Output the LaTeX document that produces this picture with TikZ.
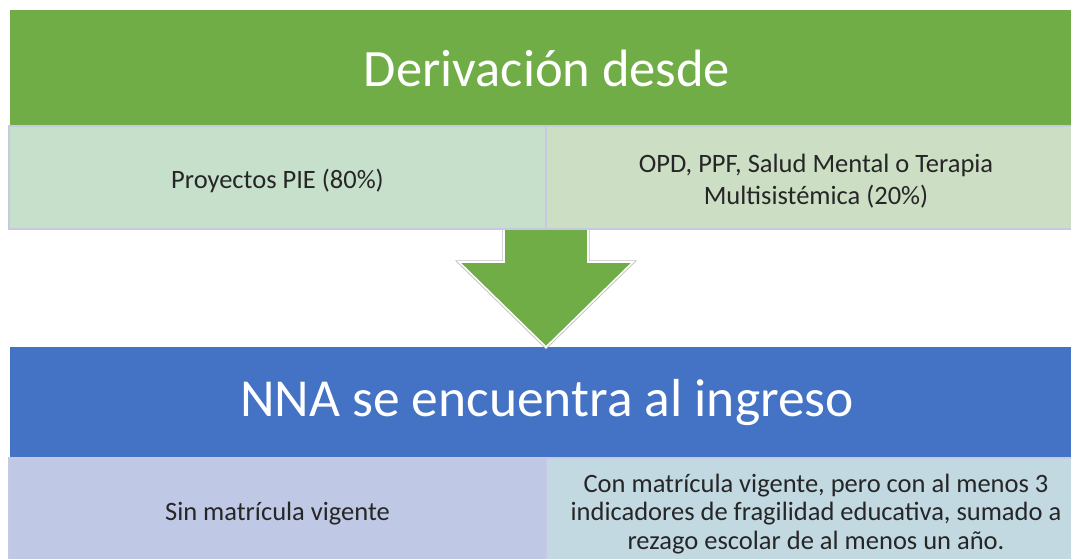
\documentclass[tikz,border=0pt]{standalone}
\usepackage{fontspec}
\setmainfont{Carlito}
\usetikzlibrary{positioning,calc}

\definecolor{verde}{HTML}{70AD47}
\definecolor{verdeA}{HTML}{C6E0CB}
\definecolor{verdeB}{HTML}{CCDEC4}
\definecolor{azul}{HTML}{4472C4}
\definecolor{azulA}{HTML}{BFC9E5}
\definecolor{azulB}{HTML}{C2D9E2}
\definecolor{borde}{HTML}{C5C9E2}
\definecolor{texto}{HTML}{262626}

% strut that pushes the row texts slightly down
\newcommand\alto{\rule{0pt}{26pt}}

\begin{document}
\begin{tikzpicture}[x=1pt,y=1pt,
  every node/.style={align=center,inner sep=0pt,outer sep=0pt},
  titulo/.style={fill=#1,text=white,minimum width=1074,minimum height=116,
    font=\fontsize{53}{60}\selectfont},
  fila/.style={fill=#1,draw=borde,line width=2,text=texto,minimum height=103,
    font=\fontsize{26.5}{32}\selectfont},
  flecha/.style={fill=verde,draw=white,line width=1.6,
    preaction={draw=gray!50,line width=3.4}}]

\useasboundingbox (0,0) rectangle (1071,558);
\clip (0,0) rectangle (1071,558);

% Top block: where the referral comes from
\node[titulo=verde,anchor=north west,font=\fontsize{52.5}{60}\selectfont] (derivacion) at (10,548) {Derivación desde};
\node[fila=verdeA,minimum width=537,below=0pt of derivacion.south west,anchor=north west,xshift=-1] (pie)
  {\alto Proyectos PIE (80\%)};
\node[fila=verdeB,minimum width=540,right=0pt of pie] (opd)
  {\alto OPD, PPF, Salud Mental o Terapia\\Multisistémica (20\%)};

% Bottom block: situation at entry
\node[titulo=azul,minimum height=111,anchor=north west,font=\fontsize{53.5}{60}\selectfont] (nna) at (10,211) {NNA se encuentra al ingreso};
\node[fila=azulA,minimum width=537,minimum height=104,below=0pt of nna.south west,anchor=north west,xshift=-1] (sinmat)
  {\alto Sin matrícula vigente};
\node[fila=azulB,minimum width=540,minimum height=104,right=0pt of sinmat,font=\fontsize{26.5}{28.5}\selectfont] (conmat)
  {\alto Con matrícula vigente, pero con al menos 3\\indicadores de fragilidad educativa, sumado a\\rezago escolar de al menos un año.};

% Block arrow between the two blocks
\coordinate (punta) at (pie.south east |- nna.north);
\path[flecha] ($(pie.south east)+(-42,-1)$) -- ++(0,-32) -- ++(-45,0) -- (punta)
  -- ++(87,85) -- ++(-45,0) -- ++(0,32);

\end{tikzpicture}
\end{document}
